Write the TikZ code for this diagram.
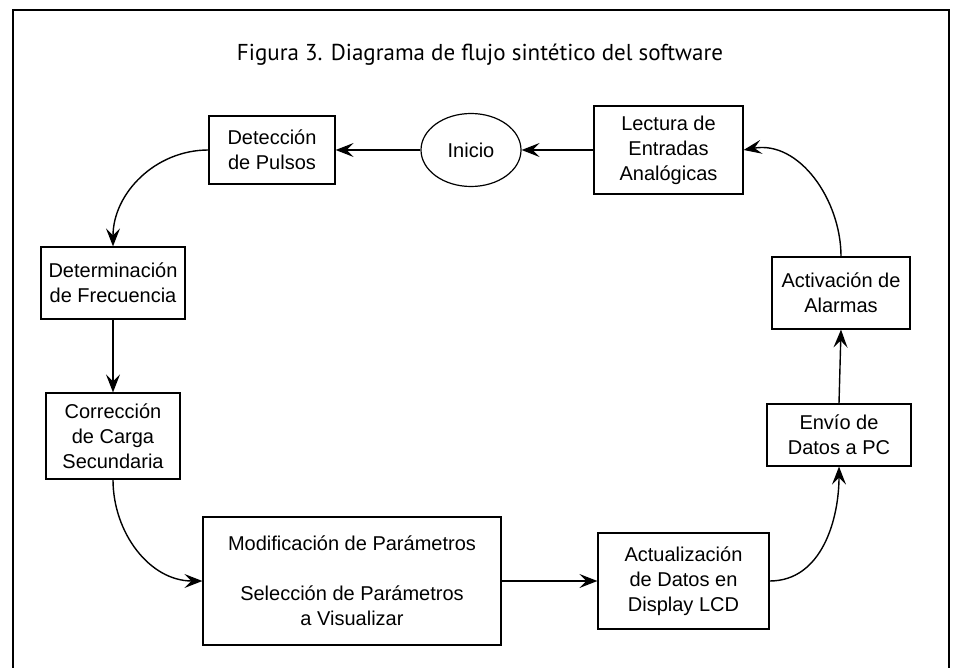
\documentclass[tikz,border=0pt]{standalone}
\usepackage{fontspec}
\setmainfont{Liberation Sans}
\newfontfamily\titlefont{PT Sans}
\usetikzlibrary{arrows.meta,shapes.geometric}
\begin{document}
\begin{tikzpicture}[x=1pt,y=-1pt,
  box/.style={draw,line width=1.2pt,rectangle,inner sep=0pt,align=center,
    font=\fontsize{20}{25}\selectfont},
  conn/.style={line width=1.4pt,-{Stealth[length=18pt,width=14pt,inset=7pt]}}]
\useasboundingbox (0,0) rectangle (955,668);
\draw[line width=2pt] (13,668) -- (13,10) -- (949,10) -- (949,668);
\node[font=\titlefont\fontsize{23}{27}\selectfont,anchor=base] (title) at (480,61)
  {Figura 3. Diagrama de flujo sintético del software};
\node[box,minimum width=126pt,minimum height=68pt] (det) at (272,150) {Detección\\de Pulsos};
\node[draw,line width=1.2pt,ellipse,inner sep=0pt,minimum width=100pt,minimum height=73pt,
  font=\fontsize{20}{25}\selectfont] (ini) at (471,150) {Inicio};
\node[box,minimum width=149pt,minimum height=88pt] (lec) at (668.5,150) {Lectura de\\Entradas\\Analógicas};
\node[box,minimum width=144pt,minimum height=72pt] (detf) at (113,283) {Determinación\\de Frecuencia};
\node[box,minimum width=134pt,minimum height=86pt] (cor) at (113,436) {Corrección\\de Carga\\Secundaria};
\node[box,minimum width=298pt,minimum height=128pt] (mod) at (352,581)
  {Modificación de Parámetros\\[25pt]Selección de Parámetros\\a Visualizar};
\node[box,minimum width=171pt,minimum height=96pt] (act) at (683.5,581) {Actualización\\de Datos en\\Display LCD};
\node[box,minimum width=144pt,minimum height=62pt] (env) at (839,435) {Envío de\\Datos a PC};
\node[box,minimum width=138pt,minimum height=72pt] (ala) at (841,293) {Activación de\\Alarmas};
\draw[conn] (lec.west) -- (ini.east);
\draw[conn] (ini.west) -- (det.east);
\draw[conn] (det.west) to[out=180,in=90] (detf.north);
\draw[conn] (detf.south) -- (cor.north);
\draw[conn] (cor.south) to[out=-90,in=180] (mod.west);
\draw[conn] (mod.east) -- (act.west);
\draw[conn] (act.east) to[out=0,in=-90] (env.south);
\draw[conn] (env.north) -- (ala.south);
\draw[conn] (ala.north) to[out=90,in=10] (lec.east);
\end{tikzpicture}
\end{document}
